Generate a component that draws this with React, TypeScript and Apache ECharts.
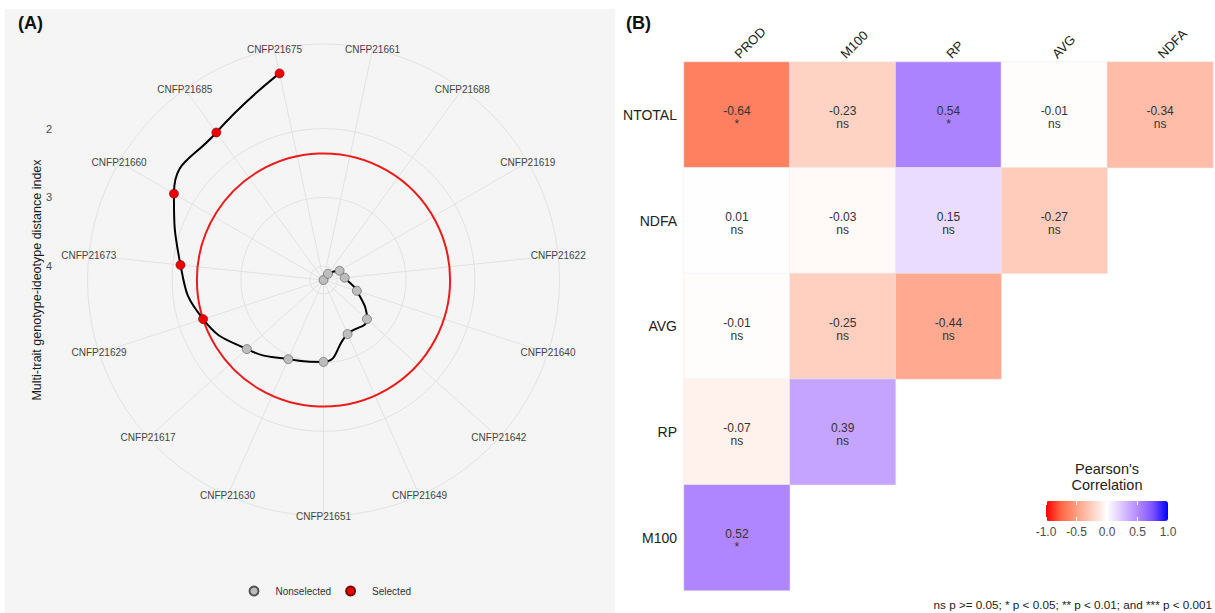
import React, { useEffect, useRef } from "react";
import * as echarts from "echarts";

// ---------- Panel A data (MGIDI) ----------
// genotypes in clockwise order starting just right of 12 o'clock
const genotypes = [
  "CNFP21661", "CNFP21688", "CNFP21619", "CNFP21622", "CNFP21640",
  "CNFP21642", "CNFP21649", "CNFP21651", "CNFP21630", "CNFP21617",
  "CNFP21629", "CNFP21673", "CNFP21660", "CNFP21685", "CNFP21675",
];
const mgidi = [4.2, 4.09, 3.93, 3.89, 3.69, 3.35, 3.34, 3.01, 2.94, 2.7, 2.36, 2.11, 1.69, 1.55, 1.13];
const cutoff = 2.36;
const radialBreaks = [2, 3, 4];
const rMin = 0.77; // outer edge value (reversed scale)
const rMax = 4.2; // centre value
const legendNames = ["Nonselected", "Selected"];

// ---------- Panel B data (correlations) ----------
const corrCols = ["PROD", "M100", "RP", "AVG", "NDFA"];
const corrRows = ["NTOTAL", "NDFA", "AVG", "RP", "M100"];
const corrValues = [
  [-0.64, -0.23, 0.54, -0.01, -0.34],
  [0.01, -0.03, 0.15, -0.27],
  [-0.01, -0.25, -0.44],
  [-0.07, 0.39],
  [0.52],
];
const corrSig = [
  ["*", "ns", "*", "ns", "ns"],
  ["ns", "ns", "ns", "ns"],
  ["ns", "ns", "ns"],
  ["ns", "ns"],
  ["*"],
];
const colorbarTicks = [-1, -0.5, 0, 0.5, 1];
const footnote = "ns p >= 0.05; * p < 0.05; ** p < 0.01; and *** p < 0.001";

const FONT = "'Liberation Sans', Arial, Helvetica, sans-serif";

export default function App() {
  const ref = useRef<HTMLDivElement>(null);

  useEffect(() => {
    if (!ref.current) return;
    const chart = echarts.init(ref.current, undefined, { renderer: "svg" });

    const n = genotypes.length;
    const step = 360 / n;
    const cx = 323.5;
    const cy = 280;
    const R = 236;
    const pxPerUnit = R / (rMax - rMin);
    const yOf = (v: number) => cy - (rMax - v) * pxPerUnit;

    const lineData = mgidi.map((v, i) => [v, i * step]).reverse();
    const nonSel: number[][] = [];
    const sel: number[][] = [];
    mgidi.forEach((v, i) => {
      if (v <= cutoff) sel.push([v, i * step]);
      else nonSel.push([v, i * step]);
    });

    const heatData: any[] = [];
    corrValues.forEach((row, r) =>
      row.forEach((v, c) => heatData.push({ value: [c, r, v], sig: corrSig[r][c] }))
    );

    const gridColor = "#e2e2e2";
    const gridLine = { color: gridColor, width: 1 };

    const circleItem = (stroke: string, lineWidth: number) => (params: any, api: any) => {
      const cs = params.coordSys;
      const p = api.coord([api.value(0), api.value(1)]);
      const r = Math.hypot(p[0] - cs.cx, p[1] - cs.cy);
      return { type: "circle", shape: { cx: cs.cx, cy: cs.cy, r }, style: { fill: "none", stroke, lineWidth } };
    };

    const option: any = {
      animation: false,
      textStyle: { fontFamily: FONT },
      graphic: [
        { type: "rect", z: -10, shape: { x: 5, y: 9, width: 610, height: 604 }, style: { fill: "#f5f5f5" }, silent: true },
        { type: "text", left: 18, top: 14, style: { text: "(A)", fontSize: 18, fontWeight: "bold", fill: "#111", fontFamily: FONT } },
        { type: "text", left: 626, top: 14, style: { text: "(B)", fontSize: 18, fontWeight: "bold", fill: "#111", fontFamily: FONT } },
        {
          type: "text", x: 37, y: cy, rotation: Math.PI / 2,
          style: { text: "Multi-trait genotype-ideotype distance index", fontSize: 12.5, fill: "#1a1a1a", align: "center", verticalAlign: "middle", fontFamily: FONT },
        },
        {
          type: "text", x: 1107, y: 477,
          style: { text: "Pearson's\nCorrelation", fontSize: 14.5, lineHeight: 16.5, fill: "#222", align: "center", verticalAlign: "middle", fontFamily: FONT },
        },
        {
          type: "text", x: 1212, y: 604,
          style: { text: footnote, fontSize: 11.7, fill: "#222", align: "right", verticalAlign: "middle", fontFamily: FONT },
        },
      ],
      polar: { center: [cx, cy], radius: R },
      angleAxis: {
        type: "value", min: 0, max: 360, interval: step, startAngle: 90 - step / 2, clockwise: true,
        axisLine: { show: true, lineStyle: gridLine },
        axisTick: { show: false },
        axisLabel: { show: false },
        splitLine: { show: true, lineStyle: gridLine },
      },
      radiusAxis: {
        type: "value", min: rMin, max: rMax, inverse: true,
        axisLine: { show: false },
        axisTick: { show: false },
        axisLabel: { show: false },
        splitLine: { show: false },
      },
      grid: [
        { left: 58, width: 10, top: yOf(radialBreaks[0]), height: yOf(radialBreaks[radialBreaks.length - 1]) - yOf(radialBreaks[0]) },
        { left: 684, top: 62, width: 529, height: 528.5 },
        { left: 1046, top: 501, width: 122, height: 20 },
      ],
      xAxis: [
        { gridIndex: 0, type: "value", show: false },
        {
          gridIndex: 1, type: "category", data: corrCols, position: "top",
          axisLine: { show: false }, axisTick: { show: false }, splitLine: { show: false },
          axisLabel: { rotate: -45, fontSize: 13, color: "#222", margin: 6, fontFamily: FONT },
        },
        {
          gridIndex: 2, type: "value", min: -1, max: 1, interval: 0.5, position: "bottom", z: 10,
          axisLine: { show: false }, splitLine: { show: false },
          axisTick: { show: true, inside: true, length: 4, lineStyle: { color: "#ffffff", width: 1 } },
          axisLabel: { fontSize: 12, color: "#4d4d4d", margin: 5, formatter: (v: number) => v.toFixed(1), customValues: colorbarTicks },
        },
        {
          gridIndex: 2, type: "value", min: -1, max: 1, interval: 0.5, position: "top", z: 10,
          axisLine: { show: false }, splitLine: { show: false }, axisLabel: { show: false },
          axisTick: { show: true, inside: true, length: 4, lineStyle: { color: "#ffffff", width: 1 } },
        },
      ],
      yAxis: [
        {
          gridIndex: 0, type: "value", min: radialBreaks[0], max: radialBreaks[radialBreaks.length - 1], interval: 1, inverse: true,
          axisLine: { show: false }, axisTick: { show: false }, splitLine: { show: false },
          axisLabel: { fontSize: 11, color: "#4d4d4d", margin: 6, fontFamily: FONT },
        },
        {
          gridIndex: 1, type: "category", data: corrRows, inverse: true,
          axisLine: { show: false }, axisTick: { show: false }, splitLine: { show: false },
          axisLabel: { fontSize: 14, color: "#222", margin: 7, fontFamily: FONT },
        },
        { gridIndex: 2, type: "value", show: false },
      ],
      legend: {
        data: legendNames, left: 248.5, top: 585.5, padding: 0, icon: "circle",
        itemWidth: 9, itemHeight: 9, itemGap: 14,
        textStyle: { fontSize: 10, color: "#333", padding: [0, 0, 0, 12], fontFamily: FONT },
      },
      visualMap: {
        type: "continuous", min: -1, max: 1, seriesIndex: 6, orient: "horizontal",
        left: 1046, top: 501, itemWidth: 20, itemHeight: 122, padding: 0,
        calculable: false, text: null, showLabel: false, hoverLink: false,
        inRange: { color: ["#FF0000", "#FF6846", "#FF9E81", "#FFCFBF", "#FFFFFF", "#DCC4FF", "#B38BFF", "#7E52FF", "#0000FF"] },
      },
      series: [
        {
          type: "line", coordinateSystem: "polar", data: lineData, smooth: 0.5, showSymbol: false,
          lineStyle: { color: "#000", width: 2 }, z: 2, silent: true,
        },
        {
          name: legendNames[0], type: "scatter", coordinateSystem: "polar", data: nonSel, symbolSize: 9, z: 3,
          itemStyle: { color: "#bdbdbd", borderColor: "#555", borderWidth: 0.6, opacity: 1 },
        },
        {
          name: legendNames[1], type: "scatter", coordinateSystem: "polar", data: sel, symbolSize: 9, z: 3,
          itemStyle: { color: "#ee0000", borderColor: "#7a0000", borderWidth: 0.6, opacity: 1 },
        },
        {
          type: "custom", coordinateSystem: "polar", data: [[cutoff, 0]], silent: true, z: 1,
          renderItem: circleItem("#ec1c1c", 2),
        },
        {
          type: "custom", coordinateSystem: "polar", silent: true, z: 4, clip: false,
          data: genotypes.map((_, i) => [rMin, i * step]),
          renderItem: (params: any, api: any) => {
            const p = api.coord([api.value(0), api.value(1)]);
            return {
              type: "text", x: p[0], y: p[1],
              style: { text: genotypes[params.dataIndex], align: "center", verticalAlign: "middle", fontSize: 10, fill: "#444", fontFamily: FONT },
            };
          },
        },
        {
          type: "custom", coordinateSystem: "polar", data: radialBreaks.map((v) => [v, 0]), silent: true, z: 0,
          renderItem: circleItem(gridColor, 1),
        },
        {
          type: "heatmap", xAxisIndex: 1, yAxisIndex: 1, data: heatData,
          itemStyle: { borderColor: "#ececec", borderWidth: 0.6 },
          label: {
            show: true, fontSize: 12, lineHeight: 13, color: "#333", fontFamily: FONT, offset: [0, 3],
            formatter: (p: any) => `${p.value[2].toFixed(2)}\n${p.data.sig}`,
          },
          emphasis: { disabled: true },
        },
      ],
    };

    chart.setOption(option);
    return () => chart.dispose();
  }, []);

  return (
    <div
      ref={ref}
      style={{ position: "absolute", left: 0, top: 0, width: 1215, height: 613, background: "#ffffff" }}
    />
  );
}
